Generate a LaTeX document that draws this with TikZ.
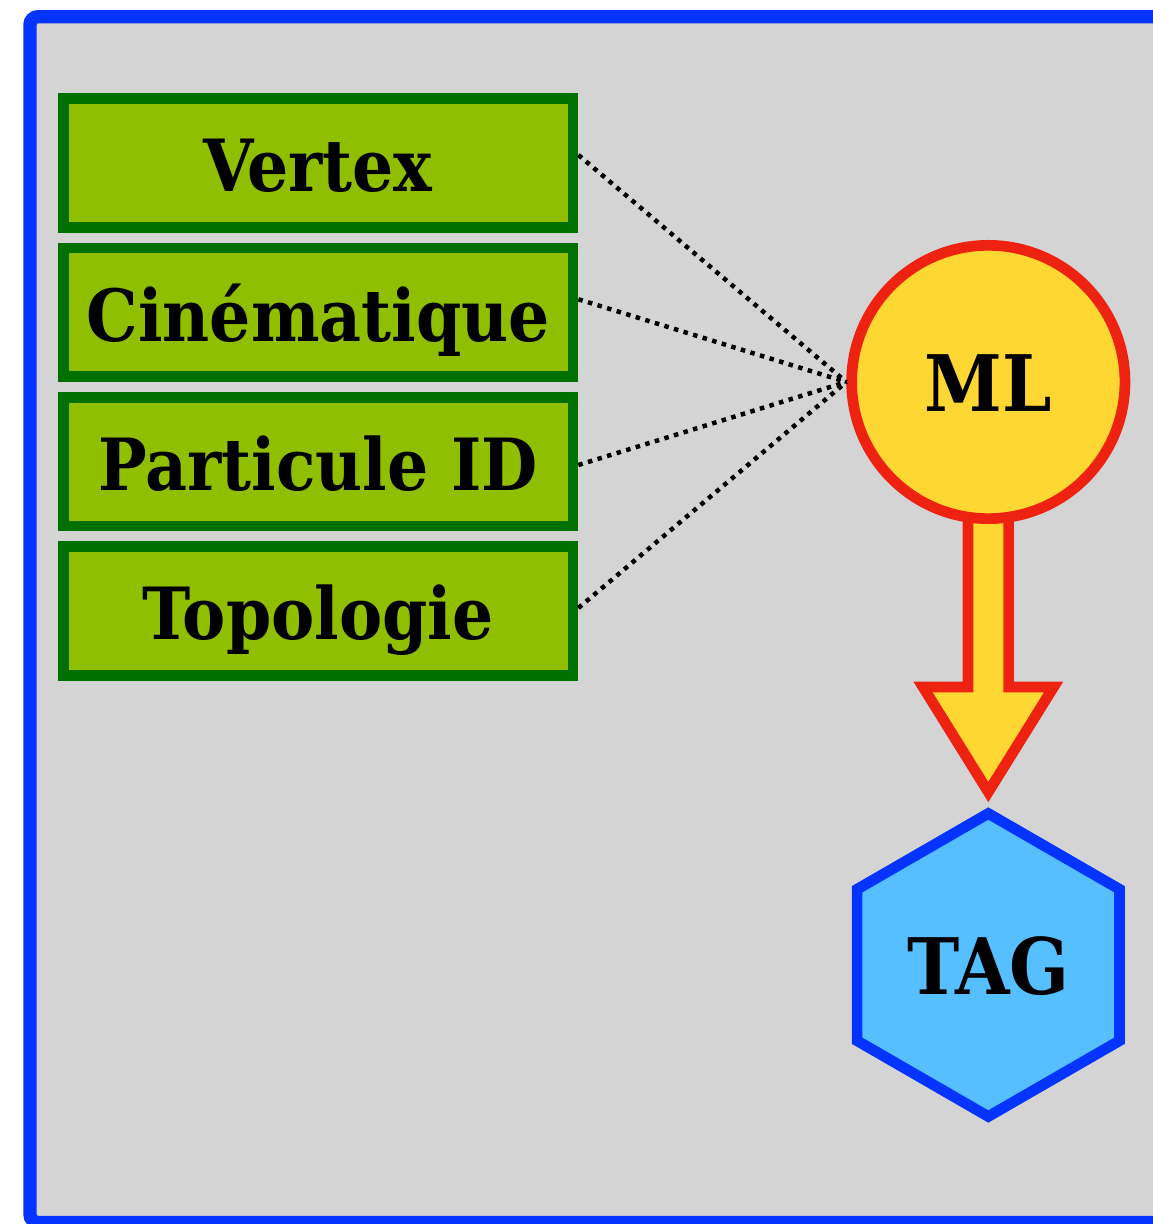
\documentclass[tikz,border=0pt]{standalone}
\usepackage{fontspec}
\setmainfont{DejaVu Serif Condensed}
\usetikzlibrary{shapes.geometric}

\definecolor{panelgray}{RGB}{212,212,212}
\definecolor{panelblue}{RGB}{5,51,255}
\definecolor{featgreen}{RGB}{144,190,0}
\definecolor{featedge}{RGB}{0,112,0}
\definecolor{mlyellow}{RGB}{255,215,51}
\definecolor{mlred}{RGB}{238,34,17}
\definecolor{tagblue}{RGB}{85,191,255}

\begin{document}
\begin{tikzpicture}[
    x=1pt,
    y=1pt,
    panel/.style={draw=panelblue,fill=panelgray,line width=13.3pt,rounded corners=8pt},
    feature/.style={draw=featedge,fill=featgreen,line width=10.7pt,
      minimum width=509.7pt,minimum height=128.6pt,inner sep=0pt,
      text height=58pt,text depth=0pt,font=\bfseries\fontsize{72}{80}\selectfont},
    mlnode/.style={circle,draw=mlred,fill=mlyellow,line width=10.7pt,
      minimum size=273.3pt,inner sep=0pt,
      text height=59pt,text depth=0pt,font=\bfseries\fontsize{78}{84}\selectfont},
    tagnode/.style={regular polygon,regular polygon sides=6,shape border rotate=30,
      draw=panelblue,fill=tagblue,line width=10.7pt,minimum size=303pt,inner sep=0pt,
      text height=59pt,text depth=0pt,font=\bfseries\fontsize{78}{84}\selectfont},
    bigarrow/.style={draw=mlred,fill=mlyellow,line width=10.7pt,line join=miter},
    link/.style={line width=4.5pt,dash pattern=on 4.5pt off 5.5pt},
  ]
  \useasboundingbox (0,0) rectangle (1153,1224);
  \clip (0,0) rectangle (1153,1224);
  \draw[panel] (30,1.5) rectangle (1180,1207.3);

  \node[feature] (vertex) at (318.2,1061) {Vertex};
  \node[feature] (cine) at (318.2,911.7) {Cinématique};
  \node[feature] (pid) at (318.2,762.4) {Particule ID};
  \node[feature] (topo) at (318.2,613) {Topologie};

  \coordinate (mlc) at (988.3,842);
  \draw[bigarrow,shift={(mlc)}] (-20.3,-118) -- (-20.3,-305) -- (-65.3,-305) -- (0,-410)
    -- (65.3,-305) -- (20.3,-305) -- (20.3,-118) -- cycle;
  \node[mlnode] (ml) at (mlc) {ML};
  \node[tagnode] (tag) at (988.3,259) {TAG};

  \foreach \f/\dy in {vertex/8,cine/13,pid/-3.4,topo/3}
    \draw[link] ([yshift=\dy pt]\f.east) -- (ml.west);
\end{tikzpicture}
\end{document}
